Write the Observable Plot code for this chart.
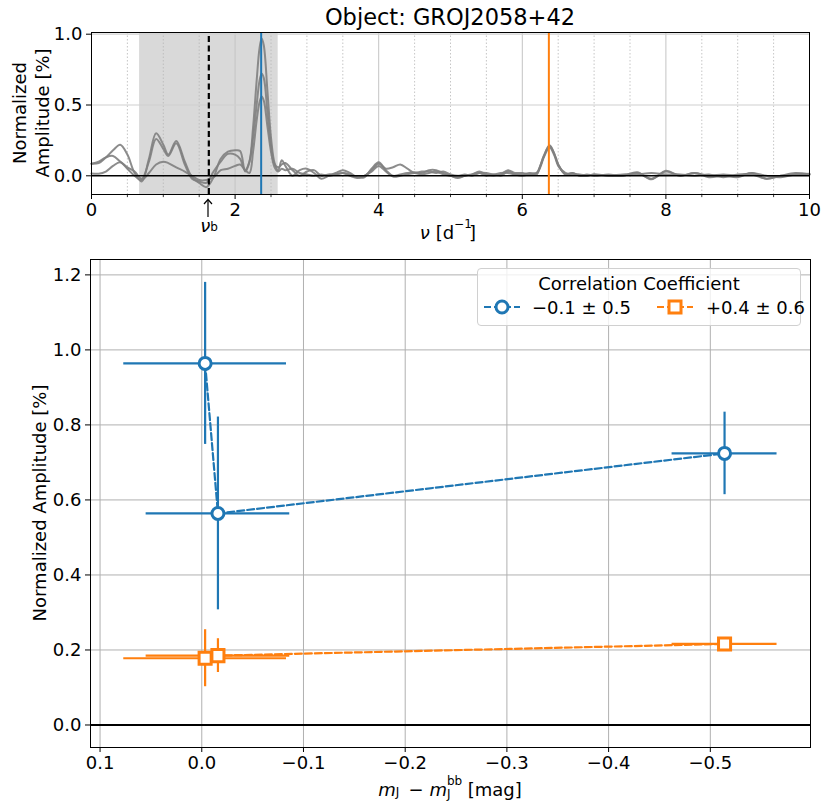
<!DOCTYPE html>
<html><head><meta charset="utf-8">
<script src="https://cdn.jsdelivr.net/npm/d3@7"></script>
<script src="https://cdn.jsdelivr.net/npm/@observablehq/plot@0.6"></script>
<style>
body{margin:0;background:#fff;font-family:"DejaVu Sans",sans-serif;}
#fig{position:relative;width:830px;height:812px;overflow:hidden;background:#fff;}
#fig > svg{position:absolute;left:0;}
.abs{position:absolute;white-space:nowrap;color:#000;font-family:"DejaVu Sans",sans-serif;font-size:18px;line-height:1;}
.rot{transform:translate(-50%,-50%) rotate(-90deg);text-align:center;line-height:1.25;}
.ctr{transform:translate(-50%,-50%);}
.scr{position:relative;display:inline-block;height:1em;}
.scr > span{position:absolute;left:0;font-size:12px;line-height:1;}
</style></head><body><div id="fig"></div>
<script>
// ---------- top panel: periodogram ----------
const title = "Object: GROJ2058+42";
const nu = [
0, 0.1, 0.2, 0.3, 0.4, 0.5, 0.6, 0.7, 0.8, 0.9,
1.0, 1.07, 1.18, 1.3, 1.4, 1.5, 1.6, 1.7, 1.8, 1.9,
2.0, 2.07, 2.14, 2.2, 2.25, 2.3, 2.34, 2.37, 2.4, 2.45,
2.5, 2.55, 2.6, 2.65, 2.7, 2.8, 2.9, 3.0, 3.1, 3.2,
3.3, 3.4, 3.5, 3.6, 3.7, 3.8, 3.9, 4.0, 4.1, 4.2,
4.3, 4.4, 4.5, 4.6, 4.7, 4.8, 4.9, 5.0, 5.1, 5.2,
5.3, 5.4, 5.5, 5.6, 5.7, 5.8, 5.9, 6.0, 6.1, 6.2,
6.25, 6.3, 6.38, 6.45, 6.5, 6.6, 6.7, 6.8, 6.9, 7.0,
7.2, 7.4, 7.6, 7.8, 8.0, 8.2, 8.4, 8.6, 8.8, 9.0,
9.2, 9.4, 9.6, 9.8, 10.0];
const ampRun1 = [
0.085, 0.09, 0.13, 0.18, 0.22, 0.15, 0.02, -0.04, 0.12, 0.30,
0.22, 0.15, 0.245, 0.10, -0.01, -0.05, -0.08, -0.01, 0.12, 0.17,
0.18, 0.175, 0.03, 0.10, 0.34, 0.67, 0.90, 0.97, 0.92, 0.60,
0.27, 0.09, 0.04, 0.11, 0.07, 0.0, 0.04, 0.05, 0.02, -0.02,
0.0, 0.02, 0.04, 0.02, -0.01, -0.01, 0.05, 0.095, 0.04, 0.0,
0.01, 0.02, 0.025, 0.02, 0.04, 0.04, 0.02, 0.0, -0.01, 0.0,
0.01, 0.03, 0.01, 0.0, 0.01, 0.04, 0.02, 0.02, 0.01, 0.02,
0.07, 0.14, 0.215, 0.15, 0.08, 0.01, 0.02, 0.0, 0.01, 0.0,
0.01, 0.0, 0.025, -0.025, 0.035, 0.0, 0.02, 0.0, 0.01, 0.0,
0.02, 0.0, -0.01, 0.01, 0.015];
const ampRun2 = [
0.085, 0.10, 0.13, 0.14, 0.10, 0.06, 0.03, -0.02, 0.10, 0.26,
0.19, 0.14, 0.23, 0.08, -0.02, -0.04, -0.05, 0.03, 0.10, 0.155,
0.15, 0.12, 0.04, 0.10, 0.27, 0.50, 0.67, 0.72, 0.69, 0.45,
0.21, 0.08, 0.06, 0.08, 0.09, 0.04, 0.0, 0.03, 0.04, 0.0,
0.01, 0.01, 0.02, 0.01, -0.01, 0.0, 0.04, 0.085, 0.05, 0.06,
0.08, 0.05, 0.02, 0.03, 0.03, 0.02, 0.03, 0.01, 0.0, 0.01,
0.0, 0.02, 0.02, 0.01, 0.02, 0.02, 0.01, 0.01, 0.02, 0.02,
0.06, 0.13, 0.20, 0.14, 0.07, 0.02, 0.01, 0.01, 0.0, 0.01,
0.0, 0.01, 0.01, 0.02, 0.01, 0.01, 0.0, 0.01, -0.01, 0.01,
0.01, -0.02, 0.0, 0.02, 0.01];
const ampRun3 = [
0.017, 0.015, 0.03, 0.07, 0.095, 0.05, 0.0, -0.03, 0.02, 0.08,
0.10, 0.09, 0.06, 0.03, 0.0, -0.03, -0.03, -0.01, 0.04, 0.05,
0.07, 0.08, 0.04, 0.02, 0.17, 0.39, 0.52, 0.56, 0.53, 0.35,
0.17, 0.06, 0.03, 0.05, 0.04, 0.05, 0.02, 0.01, 0.0, 0.01,
0.0, 0.01, 0.02, 0.0, -0.015, 0.0, 0.03, 0.07, 0.03, -0.005,
0.0, 0.01, 0.02, 0.01, 0.02, 0.03, 0.01, 0.0, -0.015, 0.0,
0.01, 0.02, 0.0, 0.01, 0.0, 0.03, 0.01, 0.0, 0.01, 0.01,
0.07, 0.14, 0.21, 0.15, 0.08, 0.01, 0.02, 0.0, 0.0, 0.01,
0.0, 0.0, 0.02, -0.02, 0.03, 0.0, 0.02, -0.01, 0.0, -0.01,
0.02, -0.02, 0.0, 0.01, 0.01];
const nuBreak = 1.634;          // nu_b (dashed black)
const nuBlue = 2.363;           // blue frequency marker
const nuOrange = 6.37;          // orange frequency marker
const spanNu = [0.67, 2.60];    // shaded band
const nuMajorTicks = [0, 2, 4, 6, 8, 10];
const nuMinorTicks = [0.5, 1, 1.5, 2.5, 3, 3.5, 4.5, 5, 5.5, 6.5, 7, 7.5, 8.5, 9, 9.5];
const ampTopTicks = [0, 0.5, 1.0];

// ---------- bottom panel ----------
const colorIndex = [-0.0033, -0.0159, -0.514];
const colorIndexErr = [0.080, 0.0706, 0.0516];
const ampBlue = [0.964, 0.564, 0.724];
const ampBlueErr = [0.216, 0.257, 0.110];
const ampOrange = [0.178, 0.185, 0.216];
const ampOrangeErr = [0.076, 0.045, 0.010];
const colorTicks = [0.1, 0.0, -0.1, -0.2, -0.3, -0.4, -0.5];
const ampTicks = [0.0, 0.2, 0.4, 0.6, 0.8, 1.0, 1.2];
const legendTitle = "Correlation Coefficient";
const legendLabels = ["−0.1 ± 0.5", "+0.4 ± 0.6"];

const BLUE = "#1f77b4", ORANGE = "#ff7f0e";
[ampRun1, ampRun2, ampRun3].forEach((a, i) => { if (a.length !== nu.length) throw new Error("length mismatch run " + (i+1)); });

const runs = [];
[ampRun1, ampRun2, ampRun3].forEach((arr, k) => nu.forEach((v, i) => runs.push({nu: v, amp: arr[i], run: k})));

const fmt1 = d => d.toFixed(1).replace("-", "−");
const fig = document.getElementById("fig");

const yTopDom = [-0.132, 1.012];
const topPlot = Plot.plot({
  width: 830, height: 240,
  marginTop: 32, marginBottom: 46, marginLeft: 91, marginRight: 21,
  style: {fontFamily: "DejaVu Sans", fontSize: "18px", color: "#000", background: "transparent", overflow: "visible"},
  x: {domain: [0, 10], ticks: nuMajorTicks, tickFormat: d => String(d), tickSize: 5, label: null},
  y: {domain: yTopDom, ticks: ampTopTicks, tickFormat: fmt1, tickSize: 5, label: null},
  marks: [
    Plot.rect([{a: spanNu[0], b: spanNu[1]}], {x1: "a", x2: "b", y1: yTopDom[0], y2: yTopDom[1], fill: "#d9d9d9"}),
    Plot.ruleX(nuMinorTicks, {stroke: "#b8b8b8", strokeWidth: 0.8, strokeDasharray: "1.5,2"}),
    Plot.ruleX(nuMajorTicks.slice(1, -1), {stroke: "#c4c4c4", strokeWidth: 1}),
    Plot.ruleY([0.5, 1.0], {stroke: "#d0d0d0", strokeWidth: 1.2}),
    Plot.ruleX(nuMinorTicks, {y1: yTopDom[0], y2: yTopDom[0] - 0.022, stroke: "black", strokeWidth: 0.8}),
    Plot.line(runs, {x: "nu", y: "amp", z: "run", stroke: "#808080", strokeWidth: 2, strokeOpacity: 0.9, curve: "catmull-rom"}),
    Plot.ruleY([0], {stroke: "black", strokeWidth: 1.5}),
    Plot.ruleX([nuBreak], {y1: yTopDom[0], y2: yTopDom[1], stroke: "black", strokeWidth: 2.2, strokeDasharray: "6,3.5"}),
    Plot.ruleX([nuBlue], {y1: yTopDom[0], y2: yTopDom[1], stroke: BLUE, strokeWidth: 2}),
    Plot.ruleX([nuOrange], {y1: yTopDom[0], y2: yTopDom[1], stroke: ORANGE, strokeWidth: 2}),
    Plot.frame({stroke: "black", strokeWidth: 1})
  ]
});
topPlot.style.top = "0px";
fig.appendChild(topPlot);

const blueRows = colorIndex.map((x, i) => ({x, xe: colorIndexErr[i], y: ampBlue[i], ye: ampBlueErr[i]}));
const orangeRows = colorIndex.map((x, i) => ({x, xe: colorIndexErr[i], y: ampOrange[i], ye: ampOrangeErr[i]}));
const seriesMarks = (rows, color, symbol, r) => [
  Plot.ruleY(rows, {y: "y", x1: d => d.x - d.xe, x2: d => d.x + d.xe, stroke: color, strokeWidth: 2.2}),
  Plot.ruleX(rows, {x: "x", y1: d => d.y - d.ye, y2: d => d.y + d.ye, stroke: color, strokeWidth: 2.2}),
  Plot.line(rows, {x: "x", y: "y", stroke: color, strokeWidth: 2.2, strokeDasharray: "7,3"}),
  Plot.dot(rows, {x: "x", y: "y", symbol, r, fill: "white", stroke: color, strokeWidth: 3})
];

const botPlot = Plot.plot({
  width: 830, height: 567,
  marginTop: 14, marginBottom: 65, marginLeft: 90, marginRight: 20,
  style: {fontFamily: "DejaVu Sans", fontSize: "18px", color: "#000", background: "transparent", overflow: "visible"},
  x: {domain: [0.1094, -0.5985], ticks: colorTicks, tickFormat: fmt1, tickSize: 5, label: null},
  y: {domain: [-0.06, 1.241], ticks: ampTicks, tickFormat: fmt1, tickSize: 5, label: null},
  marks: [
    Plot.ruleX(colorTicks, {stroke: "#b0b0b0", strokeWidth: 1}),
    Plot.ruleY(ampTicks.filter(v => v !== 0), {stroke: "#b0b0b0", strokeWidth: 1}),
    Plot.ruleY([0], {stroke: "black", strokeWidth: 2}),
    ...seriesMarks(blueRows, BLUE, "circle", 6),
    ...seriesMarks(orangeRows, ORANGE, "square", 6.8),
    Plot.frame({stroke: "black", strokeWidth: 1})
  ]
});
botPlot.style.top = "245px";
fig.appendChild(botPlot);

// ---------- texts ----------
function addText(html, x, y, cls, extra) {
  const d = document.createElement("div");
  d.className = "abs " + cls;
  d.style.left = x + "px"; d.style.top = y + "px";
  if (extra) Object.assign(d.style, extra);
  d.innerHTML = html;
  fig.appendChild(d);
  return d;
}
const nuBreakPx = 91 + (830 - 91 - 21) * nuBreak / 10;
addText(title, 450, 17, "ctr", {fontSize: "22.5px"});
addText("Normalized<br>Amplitude [%]", 31, 113, "rot");
addText("<i>ν</i> [d<span class='scr' style='width:15px'><span style='top:-3px'>−1</span></span>]", 448, 231, "ctr");
// arrow pointing to nu_b on the axis
const arr = document.createElement("div");
arr.className = "abs";
Object.assign(arr.style, {left: (nuBreakPx - 6) + "px", top: "198px"});
arr.innerHTML = `<svg width="12" height="20"><line x1="6" x2="6" y1="2" y2="19" stroke="black" stroke-width="1.2"/><path d="M2,6 L6,1.5 L10,6" fill="none" stroke="black" stroke-width="1.2"/></svg>`;
fig.appendChild(arr);
addText("<i>ν</i><span class='scr' style='width:8px'><span style='top:7px'>b</span></span>", nuBreakPx + 1, 224, "ctr");
addText("Normalized Amplitude [%]", 40, 503, "rot");
addText("<i>m</i><span class='scr' style='width:7px'><span style='top:8px'>J</span></span> − <i>m</i>" +
  "<span class='scr' style='width:15px'><span style='top:-3px'>bb</span><span style='top:10px'>J</span></span> [mag]",
  450, 788, "ctr");

// legend
const leg = document.createElement("div");
leg.className = "abs";
Object.assign(leg.style, {left: "477px", top: "268px", width: "322px", height: "56px",
  border: "1px solid #d0d0d0", borderRadius: "4px", background: "rgba(255,255,255,0.8)"});
leg.innerHTML =
  `<div style="position:absolute;left:0;width:100%;top:6px;text-align:center;font-size:18px">${legendTitle}</div>` +
  `<svg width="40" height="20" style="position:absolute;left:4px;top:28px"><line x1="2" x2="38" y1="10" y2="10" stroke="${BLUE}" stroke-width="2.2" stroke-dasharray="7,3"/><circle cx="20" cy="10" r="6" fill="white" stroke="${BLUE}" stroke-width="3"/></svg>` +
  `<div style="position:absolute;left:54px;top:30px;font-size:18px">${legendLabels[0]}</div>` +
  `<svg width="40" height="20" style="position:absolute;left:177px;top:28px"><line x1="2" x2="38" y1="10" y2="10" stroke="${ORANGE}" stroke-width="2.2" stroke-dasharray="7,3"/><rect x="14" y="4" width="12" height="12" fill="white" stroke="${ORANGE}" stroke-width="3"/></svg>` +
  `<div style="position:absolute;left:228px;top:30px;font-size:18px">${legendLabels[1]}</div>`;
fig.appendChild(leg);
</script></body></html>
